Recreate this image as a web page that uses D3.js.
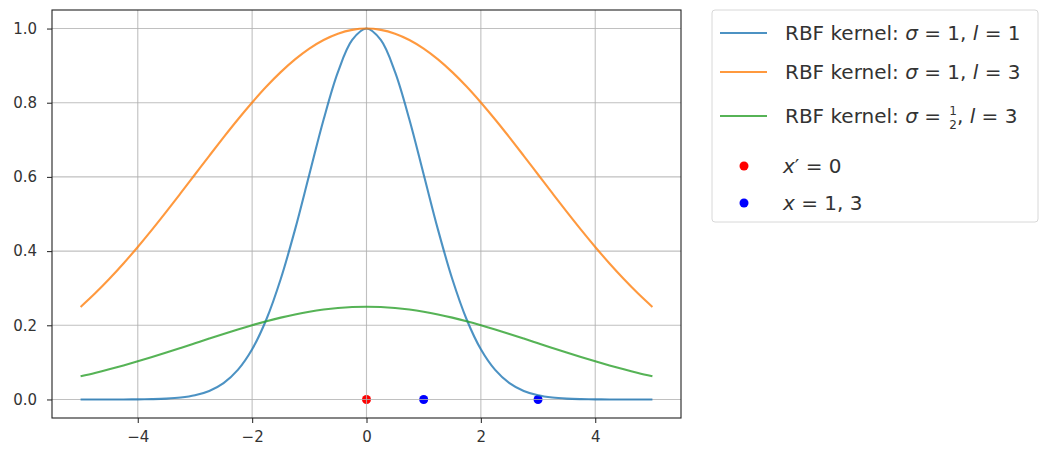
<!DOCTYPE html>
<html>
<head>
<meta charset="utf-8">
<script src="https://cdn.jsdelivr.net/npm/d3@7"></script>
<style>
  body { margin: 0; background: #fff; }
  text { font-family: "DejaVu Sans", sans-serif; }
</style>
</head>
<body>
<svg id="chart" width="1045" height="451"></svg>
<script>
// x positions the curves were read at
var xs = [-5, -4.75, -4.5, -4.25, -4, -3.75, -3.5, -3.25, -3, -2.75, -2.5, -2.25, -2, -1.75, -1.5, -1.25, -1, -0.75, -0.5, -0.25,
          0, 0.25, 0.5, 0.75, 1, 1.25, 1.5, 1.75, 2, 2.25, 2.5, 2.75, 3, 3.25, 3.5, 3.75, 4, 4.25, 4.5, 4.75, 5];

// sigma=1, l=1
var blueVals = [0, 0, 0, 0, 0.0003, 0.0009, 0.0022, 0.0051, 0.0111, 0.0228, 0.0439, 0.0796, 0.1353, 0.2163, 0.3247, 0.4578, 0.6065, 0.7548, 0.8825, 0.9692,
                1.0, 0.9692, 0.8825, 0.7548, 0.6065, 0.4578, 0.3247, 0.2163, 0.1353, 0.0796, 0.0439, 0.0228, 0.0111, 0.0051, 0.0022, 0.0009, 0.0003, 0, 0, 0, 0];
// sigma=1, l=3
var orangeVals = [0.2494, 0.2855, 0.3247, 0.3666, 0.4111, 0.4578, 0.5063, 0.5561, 0.6065, 0.6569, 0.7066, 0.7548, 0.8007, 0.8437, 0.8825, 0.9169, 0.9460, 0.9692, 0.9862, 0.9965,
                  1.0, 0.9965, 0.9862, 0.9692, 0.9460, 0.9169, 0.8825, 0.8437, 0.8007, 0.7548, 0.7066, 0.6569, 0.6065, 0.5561, 0.5063, 0.4578, 0.4111, 0.3666, 0.3247, 0.2855, 0.2494];
// sigma=1/2, l=3
var greenVals = [0.0624, 0.0714, 0.0812, 0.0917, 0.1028, 0.1145, 0.1266, 0.1390, 0.1516, 0.1642, 0.1766, 0.1887, 0.2002, 0.2109, 0.2206, 0.2292, 0.2365, 0.2423, 0.2465, 0.2491,
                 0.25, 0.2491, 0.2465, 0.2423, 0.2365, 0.2292, 0.2206, 0.2109, 0.2002, 0.1887, 0.1766, 0.1642, 0.1516, 0.1390, 0.1266, 0.1145, 0.1028, 0.0917, 0.0812, 0.0714, 0.0624];

var redPts = [[0, 0]];
var bluePts = [[1, 0], [3, 0]];

var xTicks = [-4, -2, 0, 2, 4];
var yTicks = [0, 0.2, 0.4, 0.6, 0.8, 1.0];

var svg = d3.select("#chart"),
    margin = {top: 10, left: 52},
    width = 629,
    height = 408,
    g = svg.append("g").attr("transform", "translate(" + margin.left + "," + margin.top + ")");

var x = d3.scaleLinear().domain([-5.5, 5.5]).range([0, width]);
var y = d3.scaleLinear().domain([-0.05, 1.05]).range([height, 0]);

// scatter points (grid ends up drawn over them, like the original)
g.selectAll(".red").data(redPts).enter().append("circle")
    .attr("cx", function(d) { return x(d[0]); }).attr("cy", function(d) { return y(d[1]); })
    .attr("r", 4.5).attr("fill", "red");
g.selectAll(".blu").data(bluePts).enter().append("circle")
    .attr("cx", function(d) { return x(d[0]); }).attr("cy", function(d) { return y(d[1]); })
    .attr("r", 4.5).attr("fill", "blue");

// grid
g.append("g").selectAll("line").data(xTicks).enter().append("line")
    .attr("x1", function(d) { return x(d); }).attr("x2", function(d) { return x(d); })
    .attr("y1", 0).attr("y2", height)
    .attr("stroke", "#b0b0b0").attr("stroke-opacity", 0.8).attr("stroke-width", 1.1);
g.append("g").selectAll("line").data(yTicks).enter().append("line")
    .attr("y1", function(d) { return y(d); }).attr("y2", function(d) { return y(d); })
    .attr("x1", 0).attr("x2", width)
    .attr("stroke", "#b0b0b0").attr("stroke-opacity", 0.8).attr("stroke-width", 1.1);

var series = [
  {vals: blueVals, color: "#1f77b4"},
  {vals: orangeVals, color: "#ff7f0e"},
  {vals: greenVals, color: "#2ca02c"}
];

var line = d3.line()
    .x(function(d, i) { return x(xs[i]); })
    .y(function(d) { return y(d); })
    .curve(d3.curveCatmullRom.alpha(0.5));

series.forEach(function(s) {
  g.append("path")
      .datum(s.vals)
      .attr("fill", "none")
      .attr("stroke", s.color)
      .attr("stroke-opacity", 0.8)
      .attr("stroke-width", 2.1)
      .attr("d", line);
});

// axes
var xAxis = g.append("g")
    .attr("transform", "translate(0," + height + ")")
    .call(d3.axisBottom(x).tickValues(xTicks).tickSize(5).tickPadding(8)
      .tickFormat(function(d) { return d < 0 ? "\u2212" + Math.abs(d) : d; }));
var yAxis = g.append("g")
    .call(d3.axisLeft(y).tickValues(yTicks).tickSize(5).tickPadding(10).tickFormat(d3.format(".1f")));
[xAxis, yAxis].forEach(function(a) {
  a.select(".domain").remove();
  a.selectAll("line").attr("stroke", "#333").attr("stroke-width", 1.1);
  a.selectAll("text").attr("fill", "#333").style("font-size", "15px")
    .style("font-family", "'DejaVu Sans', sans-serif");
});

g.append("rect")
    .attr("width", width).attr("height", height)
    .attr("fill", "none").attr("stroke", "#222").attr("stroke-width", 1.1);

// legend
var leg = svg.append("g").attr("transform", "translate(712,10)");
leg.append("rect")
    .attr("width", 326).attr("height", 212).attr("rx", 3)
    .attr("fill", "#fff").attr("stroke", "#d8d8d8").attr("stroke-width", 1);

var legLines = [
  {color: "#1f77b4", y: 23, sig: "1", l: "1"},
  {color: "#ff7f0e", y: 62, sig: "1", l: "3"},
  {color: "#2ca02c", y: 106, sig: null, l: "3"}
];

function mathPart(t, italic, s) {
  t.append("tspan").style("font-style", italic ? "italic" : "normal").text(s);
}

legLines.forEach(function(d) {
  leg.append("line")
      .attr("x1", 8).attr("x2", 55).attr("y1", d.y).attr("y2", d.y)
      .attr("stroke", d.color).attr("stroke-opacity", 0.8).attr("stroke-width", 2.1);
  var t = leg.append("text")
      .attr("x", 73).attr("y", d.y + 7)
      .attr("fill", "#333").style("font-size", "20px");
  t.append("tspan").text("RBF kernel: ");
  mathPart(t, true, "\u03c3");
  mathPart(t, false, " = ");
  var tail;
  if (d.sig) {
    tail = t;
    mathPart(t, false, d.sig + ",");
  } else {
    // trailing space is trimmed, so step past it by hand
    var len = t.node().getComputedTextLength();
    var fx = 73 + len + 12;
    leg.append("text").attr("x", fx).attr("y", d.y - 1)
        .attr("text-anchor", "middle").attr("fill", "#333").style("font-size", "12px").text("1");
    leg.append("text").attr("x", fx).attr("y", d.y + 13)
        .attr("text-anchor", "middle").attr("fill", "#333").style("font-size", "12px").text("2");
    tail = leg.append("text").attr("x", fx + 4).attr("y", d.y + 7)
        .attr("fill", "#333").style("font-size", "20px");
    mathPart(tail, false, ",");
  }
  mathPart(tail, true, " l");
  mathPart(tail, false, " = " + d.l);
});

var legDots = [
  {color: "red", y: 156, label: ["x", "\u2032 = 0"]},
  {color: "blue", y: 193, label: ["x", " = 1, 3"]}
];
legDots.forEach(function(d) {
  leg.append("circle").attr("cx", 32).attr("cy", d.y).attr("r", 4.5).attr("fill", d.color);
  var t = leg.append("text").attr("x", 71).attr("y", d.y + 7)
      .attr("fill", "#333").style("font-size", "20px");
  t.append("tspan").style("font-style", "italic").text(d.label[0]);
  t.append("tspan").text(d.label[1]);
});
</script>
</body>
</html>
